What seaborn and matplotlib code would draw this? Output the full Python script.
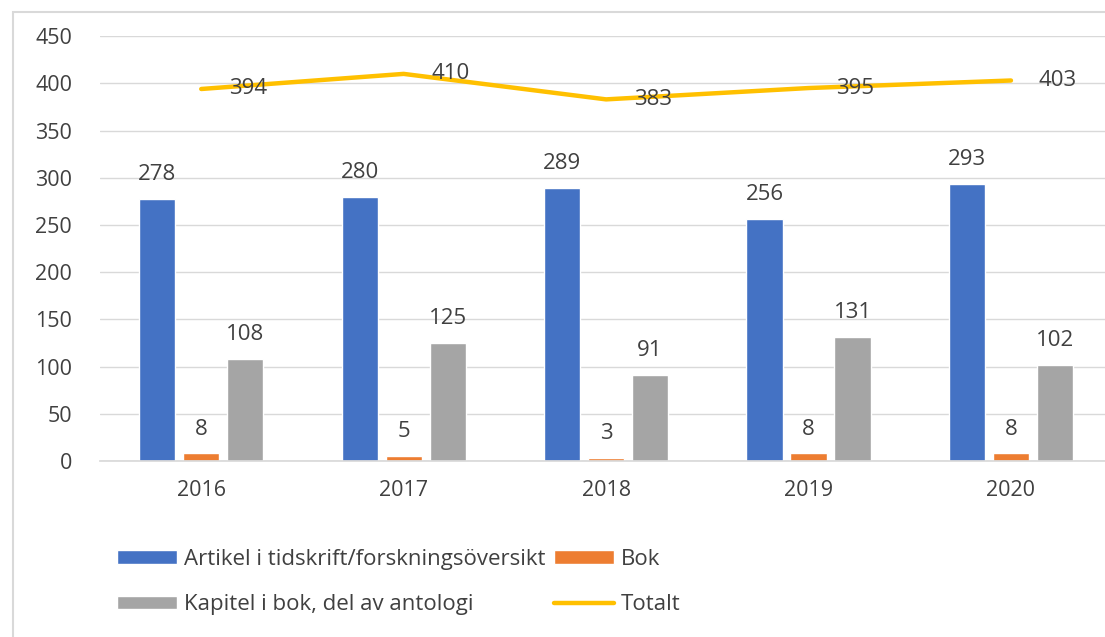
import numpy as np
import pandas as pd
import seaborn as sns
import matplotlib.pyplot as plt
from matplotlib.patches import Rectangle

years = ["2016", "2017", "2018", "2019", "2020"]
artikel = [278, 280, 289, 256, 293]
bok = [8, 5, 3, 8, 8]
kapitel = [108, 125, 91, 131, 102]
totalt = [394, 410, 383, 395, 403]

names = ["Artikel i tidskrift/forskningsöversikt", "Bok", "Kapitel i bok, del av antologi"]
colors = ["#4472C4", "#ED7D31", "#A5A5A5"]
TXT = "#404040"

df = pd.DataFrame({
    "year": years * 3,
    "value": artikel + bok + kapitel,
    "typ": [names[0]] * 5 + [names[1]] * 5 + [names[2]] * 5,
})

sns.set_theme(style="white")
plt.rcParams["font.family"] = ["Open Sans", "DejaVu Sans"]

fig = plt.figure(figsize=(11.05, 6.37), dpi=100)
ax = fig.add_axes([0.0905, 0.2763, 0.916, 0.667])

sns.barplot(data=df, x="year", y="value", hue="typ", palette=colors, saturation=1,
            width=0.652, gap=0.18, ax=ax, legend=True)
sns.lineplot(x=np.arange(len(years)), y=totalt, color="#FFC000", linewidth=3.2,
             ax=ax, label="Totalt")

for c in ax.containers:
    ax.bar_label(c, padding=10, fontsize=16, color=TXT)
for i, v in enumerate(totalt):
    ax.annotate(str(v), (i, v), xytext=(20, 0), textcoords="offset points",
                ha="left", va="center", fontsize=16, color=TXT)

ax.set_ylim(0, 450)
ax.set_yticks(range(0, 451, 50))
ax.set_xlim(-0.5, 4.5)
ax.yaxis.grid(True, color="#d9d9d9", linewidth=1)
ax.set_axisbelow(True)
ax.set_xlabel("")
ax.set_ylabel("")
for s in ["top", "right", "left"]:
    ax.spines[s].set_visible(False)
ax.spines["bottom"].set_color("#d9d9d9")
ax.tick_params(axis="both", length=0, labelsize=15.5, labelcolor=TXT)
ax.tick_params(axis="x", pad=14)
ax.tick_params(axis="y", pad=20)

h, l = ax.get_legend_handles_labels()
order = [0, 2, 1, 3]
ax.legend([h[i] for i in order], [l[i] for i in order], ncol=2,
          loc="upper left", bbox_to_anchor=(0.088, 0.17), bbox_transform=fig.transFigure,
          frameon=False, fontsize=16, handlelength=2.7, handleheight=0.55,
          columnspacing=0.4, labelspacing=1.1, handletextpad=0.3, labelcolor=TXT)

fig.patches.append(Rectangle((13 / 1105, -0.01), 1.0, 1 - 12 / 637 + 0.01,
                             transform=fig.transFigure, fill=False,
                             edgecolor="#d9d9d9", linewidth=1.5))

fig.savefig("out.png", dpi=100)
